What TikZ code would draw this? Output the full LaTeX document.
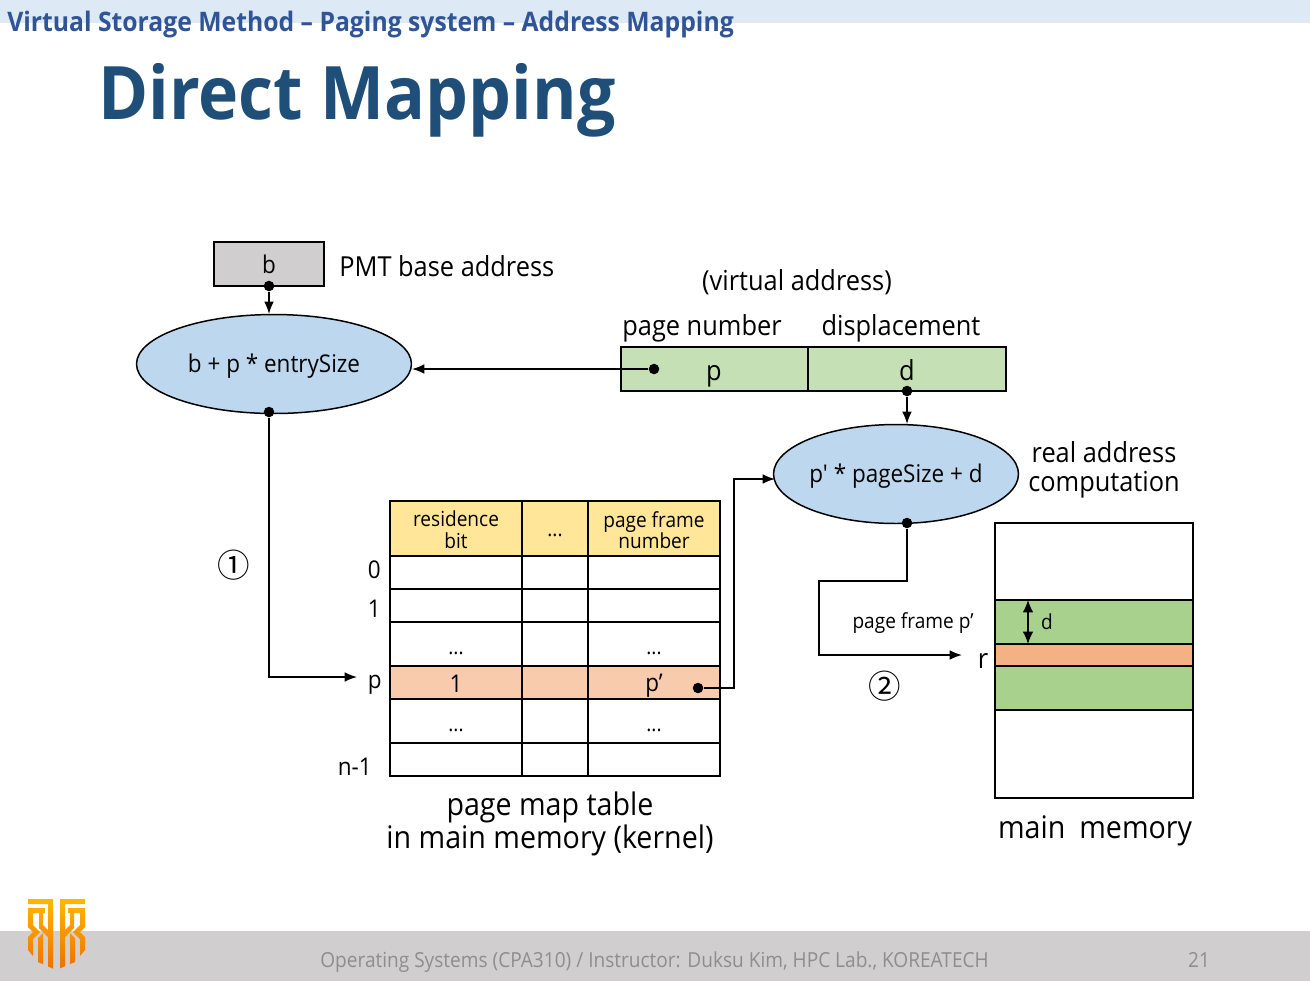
\documentclass[tikz,border=0pt]{standalone}
\usepackage{fontspec}
\setmainfont[FakeStretch=0.92,Ligatures=TeXOff]{Open Sans}
\newfontfamily\symfont{Noto Sans CJK JP}
\usetikzlibrary{positioning,arrows.meta,calc,shapes.geometric}
\definecolor{headband}{HTML}{DEE9F6}
\definecolor{footband}{HTML}{D0CECE}
\definecolor{headblue}{HTML}{2F5597}
\definecolor{titleblue}{HTML}{1F4E79}
\definecolor{ellblue}{HTML}{BDD7EE}
\definecolor{vagreen}{HTML}{C5E0B4}
\definecolor{memgreen}{HTML}{A9D18E}
\definecolor{memorange}{HTML}{F4B183}
\definecolor{roworange}{HTML}{F8CBAD}
\definecolor{headyellow}{HTML}{FFE699}
\definecolor{basegray}{HTML}{D0CECE}
\definecolor{foottext}{HTML}{8E8E8E}
\definecolor{logotop}{HTML}{FFB800}
\definecolor{logobot}{HTML}{F07000}
\tikzset{
  line/.style={line width=0.85pt,black},
  arr/.style={line,-{Latex[length=7pt,width=5.5pt]}},
  dotnode/.style={circle,fill=black,inner sep=0pt,minimum size=6pt},
  txt/.style={font=\fontsize{15.7pt}{16.6pt}\selectfont,align=center,inner sep=0pt},
  biglabel/.style={font=\fontsize{17.7pt}{18.4pt}\selectfont,align=center,inner sep=0pt},
  small/.style={font=\fontsize{11.8pt}{12.3pt}\selectfont,align=center,inner sep=0pt},
  mid/.style={font=\fontsize{13.9pt}{16pt}\selectfont,align=center,inner sep=0pt},
  oval/.style={ellipse,draw,line width=0.85pt,fill=ellblue,inner sep=0pt,outer sep=0pt,font=\fontsize{13.9pt}{16pt}\selectfont},
  circnum/.style={font=\symfont\fontsize{18.5pt}{20pt}\selectfont,inner sep=0pt},
}
\newcommand{\ovaltext}[1]{\smash{\raisebox{-5pt}{#1}}}
\begin{document}
\begin{tikzpicture}[x=0.02cm,y=-0.02cm,>=Latex]
  \useasboundingbox (0,0) rectangle (1310,981);
  % bands
  \fill[headband] (0,0) rectangle (1310,23);
  \fill[footband] (0,931) rectangle (1310,981);
  \node[anchor=west,inner sep=0pt,text=headblue,font=\bfseries\fontsize{15.3pt}{18pt}\selectfont] (head) at (7,25) {Virtual Storage Method – Paging system – Address Mapping};
  \node[anchor=west,inner sep=0pt,text=titleblue,font=\bfseries\fontsize{42pt}{50pt}\selectfont] (title) at (98,100) {Direct Mapping};
  \node[anchor=west,inner sep=0pt,text=foottext,font=\fontsize{11.8pt}{15pt}\selectfont] (foot) at (320,962) {Operating Systems (CPA310) / Instructor: Duksu Kim, HPC Lab., KOREATECH};
  \node[inner sep=0pt,text=foottext,font=\fontsize{11.8pt}{15pt}\selectfont] (pagenum) at (1199,960) {21};
  % logo
  \begin{scope}
    \clip (28,895) -- (85,895) -- (85,950) -- (75,962) -- (56,970) -- (38,962) -- (28,950) -- cycle;
    \clip (28,899) rectangle (53,904) (60,899) rectangle (85,904)
      (48,904) rectangle (53,970) (60,904) rectangle (65,970)
      (28,908) rectangle (45,913) (68,908) rectangle (85,913)
      (28,913) -- (33,913) -- (33,925) -- (40,932) -- (33,939) -- (33,960) -- (28,960) -- (28,937) -- (33,932) -- (28,927) -- cycle
      (85,913) -- (80,913) -- (80,925) -- (73,932) -- (80,939) -- (80,960) -- (85,960) -- (85,937) -- (80,932) -- (85,927) -- cycle
      (39,913) -- (43,913) -- (43,925) -- (48,930) -- (48,937) -- (39,928) -- cycle
      (74,913) -- (70,913) -- (70,925) -- (65,930) -- (65,937) -- (74,928) -- cycle
      (38,938) -- (43,933) -- (43,965) -- (38,965) -- cycle
      (75,938) -- (70,933) -- (70,965) -- (75,965) -- cycle;
    \shade[top color=logotop,bottom color=logobot] (28,899) rectangle (85,969);
  \end{scope}
  % base register
  \node[draw,line width=0.85pt,fill=basegray,minimum width=2.2cm,minimum height=0.88cm,inner sep=0pt,font=\fontsize{13.9pt}{16pt}\selectfont] (base) at (269,264) {b};
  \node[txt,anchor=west] (baselabel) at (339,266) {PMT base address};
  % ovals
  \node[oval,minimum width=5.5cm,minimum height=1.98cm] (addr) at (274,364) {\ovaltext{b + p * entrySize}};
  \node[oval,minimum width=4.84cm,minimum height=1.98cm] (real) at (896,474) {\ovaltext{p' * pageSize + d}};
  \node[txt] (reallabel) at (1104,470) {real address\\computation};
  % virtual address
  \draw[line,fill=vagreen] (621,347) rectangle (1006,391);
  \draw[line] (808,347) -- (808,391);
  \node[txt] (valabel) at (797,282) {(virtual address)};
  \node[txt] (pagenumber) at (702,328) {page number};
  \node[txt] (displace) at (901,328) {displacement};
  \node[txt,anchor=base] (vp) at (714,380) {p};
  \node[txt,anchor=base] (vd) at (907,380) {d};
  % page map table
  \fill[headyellow] (390,501) rectangle (720,556);
  \fill[roworange] (390,666) rectangle (720,699);
  \draw[line] (390,501) rectangle (720,776);
  \foreach \ypos in {556,589,622,666,699,743}
    \draw[line] (390,\ypos) -- (720,\ypos);
  \foreach \xpos in {522,588}
    \draw[line] (\xpos,501) -- (\xpos,776);
  \node[small] (resbit) at (456,530) {residence\\bit};
  \node[small] (hdots) at (555,535) {...};
  \node[small] (framenum) at (654,530) {page frame\\number};
  \node[small] (adots) at (456,653) {...};
  \node[small] (bdots) at (654,653) {...};
  \node[small] (cdots) at (456,730) {...};
  \node[small] (ddots) at (654,730) {...};
  \node[mid] (one) at (456,684) {1};
  \node[mid] (pprime) at (654,686) {p’};
  \node[mid,anchor=east] (row0) at (381,570) {0};
  \node[mid,anchor=east] (row1) at (381,609) {1};
  \node[mid,anchor=east] (rowp) at (382,685) {p};
  \node[mid,anchor=east] (rown) at (372,767) {n-1};
  \node[biglabel] (tablelabel) at (550,824) {page map table\\in main memory (kernel)};
  % main memory
  \fill[memgreen] (995,600) rectangle (1193,710);
  \fill[memorange] (995,644) rectangle (1193,666);
  \draw[line] (995,523) rectangle (1193,798);
  \foreach \ypos in {600,644,666,710}
    \draw[line] (995,\ypos) -- (1193,\ypos);
  \coordinate (dtop) at (1028,600);
  \coordinate (dbot) at (1028,644);
  \draw[line,{Latex[length=7pt,width=6pt]}-{Latex[length=7pt,width=6pt]}] (dtop) -- (dbot);
  \node[small] (dlabel) at (1047,622) {d};
  \node[txt] (rlabel) at (983,661) {r};
  \node[small] (framelabel) at (913,623) {page frame p’};
  \node[biglabel] (memlabel) at (1095,831) {main\hspace{8pt}memory};
  \node[circnum] (stepa) at (234,565) {①};
  \node[circnum] (stepb) at (885,686) {②};
  % connectors
  \node[dotnode] (basedot) at (269,286) {};
  \coordinate (addrtop) at (269,314);
  \draw[arr] (basedot) -- (addrtop);
  \node[dotnode] (pdot) at (654,369) {};
  \coordinate (addrright) at (412,369);
  \draw[arr] (pdot) -- (addrright);
  \node[dotnode] (addrdot) at (269,412) {};
  \coordinate (rowptip) at (357,677);
  \draw[arr] (addrdot) |- (rowptip);
  \node[dotnode] (ddot) at (907,391) {};
  \coordinate (realtop) at (907,424);
  \draw[arr] (ddot) -- (realtop);
  \node[dotnode] (framedot) at (698,688) {};
  \coordinate (realleft) at (775,479);
  \draw[arr] (framedot) -- (734,688) -- (734,479) -- (realleft);
  \node[dotnode] (realdot) at (907,523) {};
  \coordinate (rtip) at (962,655);
  \draw[arr] (realdot) -- (907,581) -- (819,581) -- (819,655) -- (rtip);
\end{tikzpicture}
\end{document}
